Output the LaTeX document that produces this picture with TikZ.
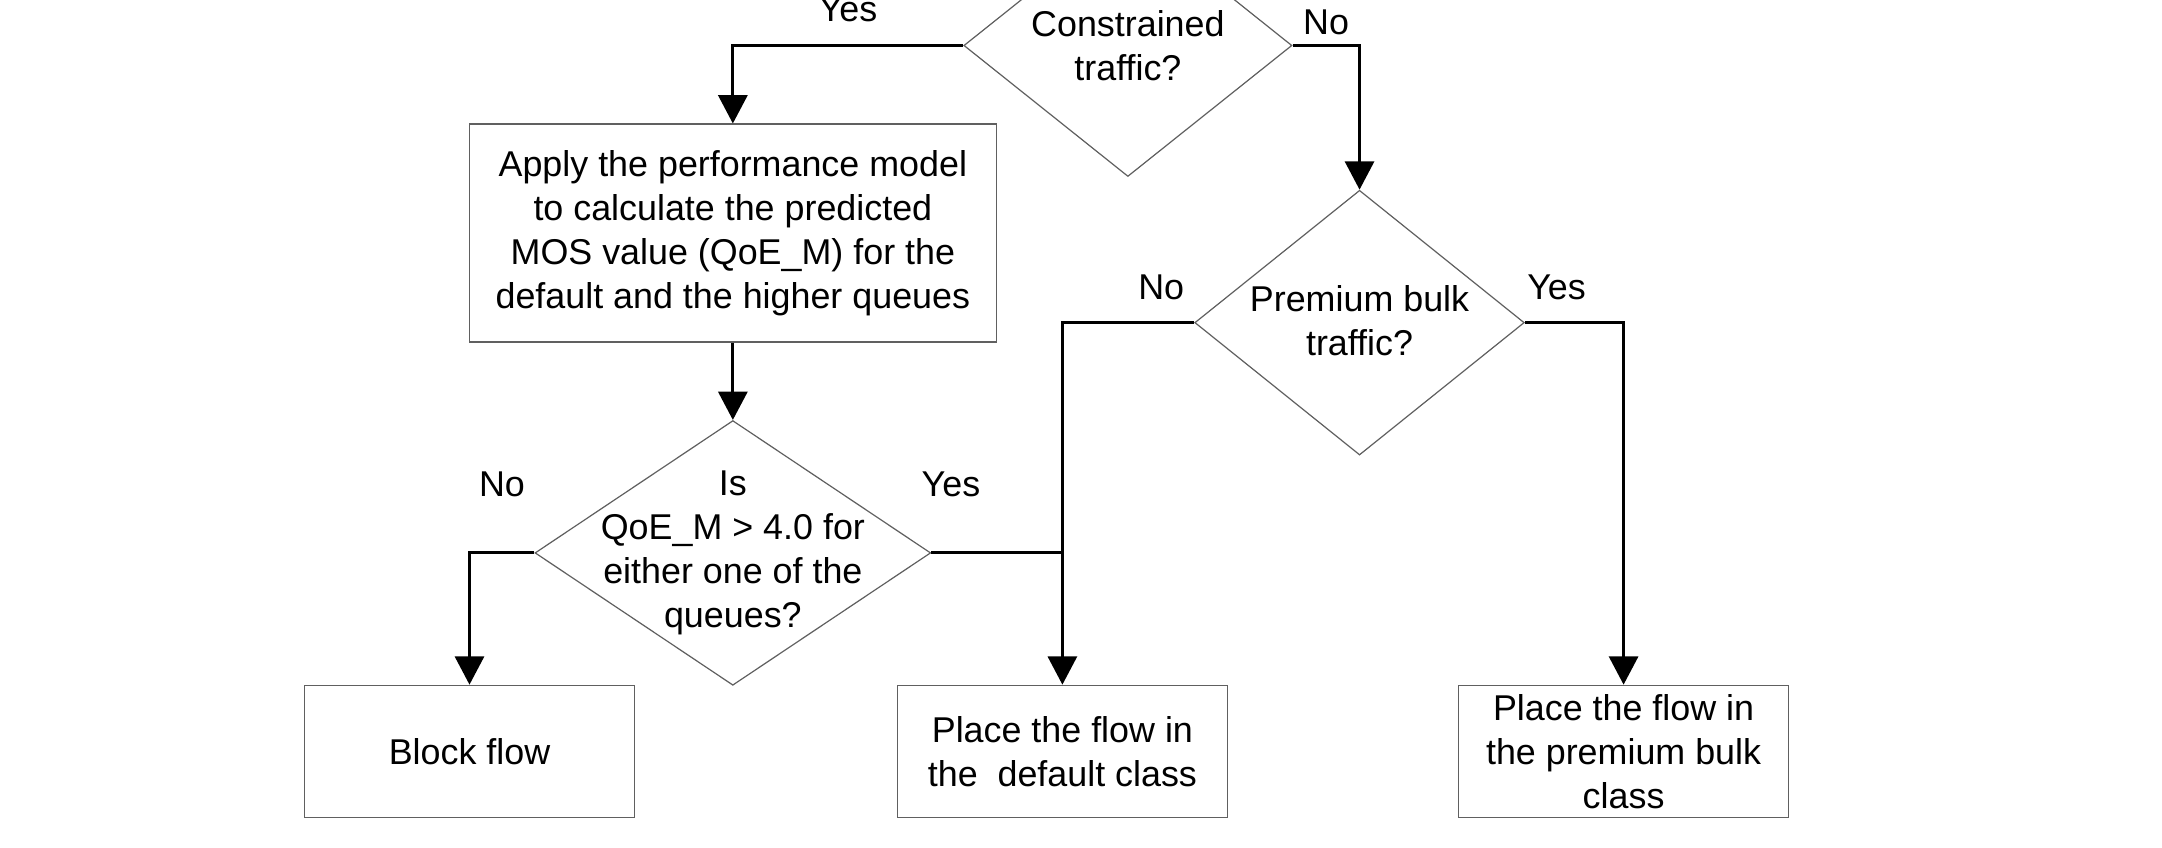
\documentclass[tikz,border=0pt]{standalone}
\usepackage{fontspec}
\setmainfont{Liberation Sans}
\usepackage{xcolor}
\usepackage{tikz}
\usetikzlibrary{arrows.meta,positioning,calc,shapes.geometric}
\definecolor{outlinegray}{RGB}{96, 96, 96}
\definecolor{flowblack}{RGB}{0, 0, 0}
\newcommand{\chartfont}{\fontsize{14.8pt}{18.2pt}\selectfont}

\begin{document}
\begin{tikzpicture}[
  procbox/.style={rectangle, draw=outlinegray, fill=white, line width=0.5pt, minimum width=4.78cm, minimum height=1.92cm, align=center, inner sep=0pt, font=\chartfont},
  decision/.style={diamond, draw=outlinegray, fill=white, line width=0.5pt, inner sep=0pt},
  dtext/.style={align=center, inner sep=0pt, font=\chartfont},
  lbl/.style={inner sep=0pt, text depth=0pt, font=\chartfont},
  flow/.style={-{Triangle[length=4.1mm,width=4.2mm]}, line width=1.3pt, color=flowblack},
  link/.style={line width=1.3pt, color=flowblack}
]
\useasboundingbox (0,0) rectangle (31.36,-12.3);

% Top: first decision (y = -0.66)
\node[decision, minimum width=4.76cm, minimum height=3.8cm] (constr) at (16.36,-0.66) {};
\node[dtext] (constrtxt) at (constr) {Constrained\\traffic?};

% Middle: model box and second decisions
\node[procbox, minimum width=7.64cm, minimum height=3.16cm] (apply) at (10.63,-3.38) {Apply the performance model\\to calculate the predicted\\MOS value (QoE\_M) for the\\default and the higher queues};
\node[decision, minimum width=4.78cm, minimum height=3.84cm] (premium) at (19.72,-4.68) {};
\node[dtext] (premiumtxt) at ($(premium)+(0,0.03)$) {Premium bulk\\traffic?};
\node[decision, minimum width=5.74cm, minimum height=3.84cm] (qoe) at (10.63,-8.02) {};
\node[dtext] (qoetxt) at (qoe) {Is\\QoE\_M > 4.0 for\\either one of the\\queues?};

% Bottom: outcomes (y = -10.9)
\node[procbox] (block) at (6.81,-10.9) {Block flow};
\node[procbox] (default) at (15.41,-10.9) {Place the flow in\\the\ \ default class};
\node[procbox] (bulkbox) at (23.55,-10.9) {Place the flow in\\the premium bulk\\class};

% Connections
\draw[flow] (constr.west) -| node[lbl, pos=0.25, above=0.33cm] {Yes} (apply.north);
\draw[flow] (constr.east) -| node[lbl, pos=0.25, above=0.13cm] {No} (premium.north);
\draw[flow] (apply.south) -- (qoe.north);

\draw[flow] (qoe.west) -| node[lbl, pos=0.25, above=0.8cm] {No} (block.north);
\draw[link] (qoe.east) -- node[lbl, pos=0.15, above=0.8cm] {Yes} (qoe.east -| default.north);

\draw[flow] (premium.west) -| node[lbl, pos=0.125, above=0.32cm] {No} (default.north);
\draw[flow] (premium.east) -| node[lbl, pos=0.16, above=0.32cm] {Yes} (bulkbox.north);

\end{tikzpicture}
\end{document}
